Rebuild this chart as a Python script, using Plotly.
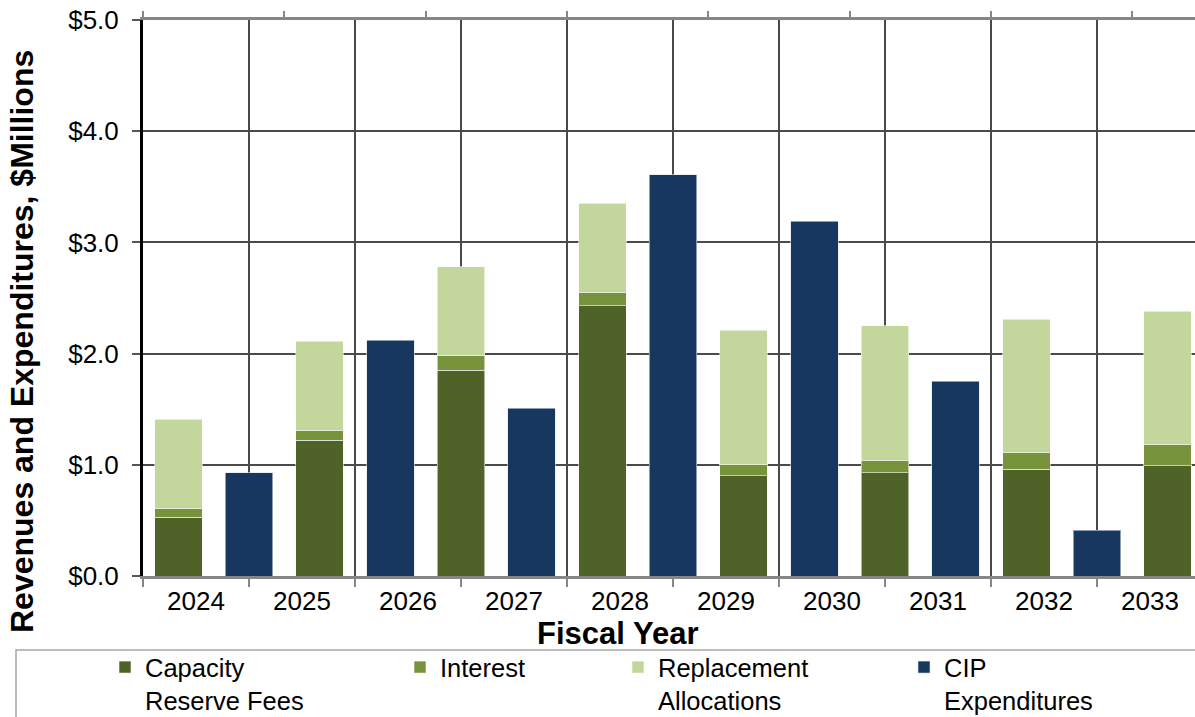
import plotly.graph_objects as go

# Fiscal years shown on the category axis
years = ["2024", "2025", "2026", "2027", "2028", "2029", "2030", "2031", "2032", "2033"]

# Revenue components ($ millions), one stacked bar per revenue column
capacity_reserve_fees = [0.53, 1.22, 1.85, 2.43, 0.90, 0.93, 0.96, 0.99]
interest = [0.08, 0.09, 0.13, 0.12, 0.10, 0.11, 0.15, 0.19]
replacement_allocations = [0.80, 0.80, 0.80, 0.80, 1.21, 1.21, 1.20, 1.20]

# Capital improvement program expenditures ($ millions)
cip_expenditures = [0.93, 2.12, 1.51, 3.61, 3.19, 1.75, 0.41]

y_ticks = [0, 1, 2, 3, 4, 5]
y_tick_text = ["$0.0", "$1.0", "$2.0", "$3.0", "$4.0", "$5.0"]

# Revenue columns and expenditure columns alternate along the bar axis
rev_pos = [2 * i for i in range(len(capacity_reserve_fees))]
cip_pos = [2 * i + 1 for i in range(len(cip_expenditures))]
n_slots = len(rev_pos) + len(cip_pos)

FONT = "Arial, Liberation Sans, sans-serif"
C_CAP = "#4F6228"
C_INT = "#77933C"
C_REP = "#C3D69B"
C_CIP = "#17375E"

W, H = 1195, 717
L, R, T, B = 143, 0, 20, 141
plot_w = W - L - R
plot_h = H - T - B
full_w = 1060  # full category span; the right part runs off the page
slot_px = full_w / n_slots
year_px = full_w / len(years)


def px_x(px):
    return (px - L) / plot_w


def px_y(py):
    return (H - B - py) / plot_h


edge = dict(color="rgba(255,255,255,0.55)", width=1)
bw = 0.67

fig = go.Figure()

# invisible carrier so the year category axis gets its categories
fig.add_trace(go.Scatter(x=years, y=[0] * len(years), mode="markers",
                         marker=dict(opacity=0), showlegend=False,
                         hoverinfo="skip", xaxis="x", yaxis="y"))

fig.add_trace(go.Bar(x=rev_pos, y=capacity_reserve_fees, name="Capacity<br>Reserve Fees",
                     marker=dict(color=C_CAP, line=edge), width=bw,
                     xaxis="x2", yaxis="y", legend="legend"))
fig.add_trace(go.Bar(x=rev_pos, y=interest, name="Interest",
                     marker=dict(color=C_INT, line=edge), width=bw,
                     xaxis="x2", yaxis="y", legend="legend2"))
fig.add_trace(go.Bar(x=rev_pos, y=replacement_allocations, name="Replacement<br>Allocations",
                     marker=dict(color=C_REP, line=edge), width=bw,
                     xaxis="x2", yaxis="y", legend="legend3"))
fig.add_trace(go.Bar(x=cip_pos, y=cip_expenditures, name="CIP<br>Expenditures",
                     marker=dict(color=C_CIP, line=dict(color="rgba(220,228,238,0.6)", width=1)),
                     width=bw, xaxis="x2", yaxis="y", legend="legend4"))

legend_font = dict(family=FONT, size=25.5, color="#000000")


def legend_at(text_px):
    return dict(x=px_x(text_px - 40), y=px_y(644), xanchor="left", yanchor="top",
                orientation="v", bgcolor="rgba(0,0,0,0)", font=legend_font,
                valign="top", itemclick=False, itemdoubleclick=False)


gray = "#868686"
grid = "#4a4a4a"

fig.update_layout(
    width=W, height=H,
    margin=dict(l=L, r=R, t=T, b=B, pad=0, autoexpand=False),
    paper_bgcolor="white", plot_bgcolor="white",
    barmode="stack",
    font=dict(family=FONT, color="#000000"),
    xaxis=dict(
        type="category", categoryorder="array", categoryarray=years,
        range=[-0.5, -0.5 + plot_w / year_px],
        tickson="boundaries", showgrid=True, gridcolor=grid, gridwidth=1.5,
        ticks="outside", ticklen=8, tickwidth=2, tickcolor=gray,
        showline=True, linecolor=gray, linewidth=3,
        tickfont=dict(family=FONT, size=26, color="#000000"),
        ticklabelstandoff=0,
        fixedrange=True, zeroline=False,
    ),
    xaxis2=dict(
        overlaying="x", anchor="y", side="top",
        range=[-0.5, -0.5 + plot_w / slot_px],
        tickmode="array", tickvals=[-0.5 + 2 * k for k in range(8)],
        showticklabels=False, ticks="outside", ticklen=6, tickwidth=2, tickcolor=gray,
        showline=True, linecolor=gray, linewidth=3,
        showgrid=False, zeroline=False, fixedrange=True,
    ),
    yaxis=dict(
        range=[0, 5], tickmode="array", tickvals=y_ticks, ticktext=y_tick_text,
        showgrid=True, gridcolor=grid, gridwidth=1.5,
        ticks="outside", ticklen=8, tickwidth=1.5, tickcolor="#555555",
        showline=True, linecolor="#000000", linewidth=3,
        tickfont=dict(family=FONT, size=26, color="#000000"),
        ticklabelstandoff=8,
        zeroline=False, fixedrange=True,
    ),
    legend=legend_at(145),
    legend2=legend_at(440),
    legend3=legend_at(658),
    legend4=legend_at(944),
    annotations=[
        dict(text="<b>Revenues and Expenditures, $Millions</b>", textangle=-90,
             x=px_x(22), y=px_y(342), xref="paper", yref="paper",
             xanchor="center", yanchor="middle", showarrow=False,
             font=dict(family=FONT, size=32, color="#000000")),
        dict(text="<b>Fiscal Year</b>",
             x=px_x(617), y=px_y(633), xref="paper", yref="paper",
             xanchor="center", yanchor="middle", showarrow=False,
             font=dict(family=FONT, size=31, color="#000000")),
    ],
    shapes=[
        dict(type="rect", xref="paper", yref="paper",
             x0=px_x(16), x1=px_x(1230), y0=px_y(650), y1=px_y(760),
             line=dict(color="#a6a6a6", width=1.5), fillcolor="rgba(0,0,0,0)",
             layer="below"),
    ],
)

fig.write_html("out.html")
